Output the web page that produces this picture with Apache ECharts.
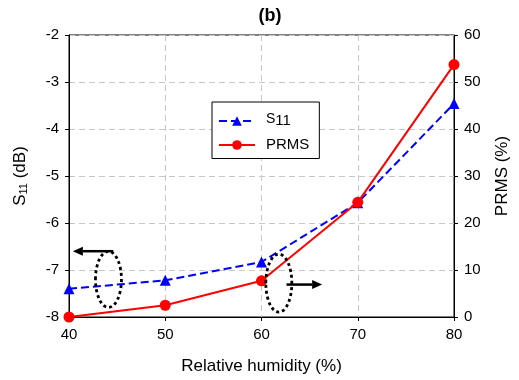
<!DOCTYPE html>
<html>
<head>
<meta charset="utf-8">
<script src="https://cdn.jsdelivr.net/npm/echarts@6/dist/echarts.min.js"></script>
<style>
  html, body { margin: 0; padding: 0; background: #fff; }
  #chart { width: 519px; height: 380px; }
</style>
</head>
<body>
<div id="chart"></div>
<script>
// 相对湿度 (x) 与两条曲线
const humidity = [40, 50, 60, 70, 80]
const s11Values = [-7.4, -7.22, -6.83, -5.57, -3.46]
const prmsValues = [0, 2.5, 7.7, 24.4, 53.7]

const FONT = 'Liberation Sans, Arial, sans-serif'

const chartDom = document.getElementById('chart')
const myChart = echarts.init(chartDom)

const option = {
  backgroundColor: '#fff',
  animation: false,
  textStyle: { fontFamily: FONT },
  title: {
    text: '(b)',
    left: 265,
    top: 2,
    textAlign: 'center',
    textStyle: { fontFamily: FONT, fontSize: 18, fontWeight: 'bold', color: '#000' }
  },
  grid: {
    left: 69,
    right: 58,
    top: 35,
    bottom: 62,
    show: true,
    borderColor: '#000',
    borderWidth: 1
  },
  legend: {
    orient: 'vertical',
    left: 212,
    top: 102,
    padding: [10, 10, 6, 6],
    itemGap: 9,
    itemWidth: 36,
    itemHeight: 12,
    borderColor: '#000',
    borderWidth: 1,
    backgroundColor: '#fff',
    textStyle: {
      fontFamily: FONT,
      fontSize: 15,
      color: '#000',
      padding: [0, 0, 0, 6],
      rich: {
        s: { fontFamily: FONT, fontSize: 14, color: '#000', padding: [0, 0, 4, 0] },
        sub: { fontFamily: FONT, fontSize: 15, color: '#000' }
      }
    },
    formatter: function (name) {
      if (name === 'S11') return '{s|S}{sub|11}'
      return name
    },
    data: ['S11', 'PRMS']
  },
  xAxis: {
    type: 'value',
    min: 40,
    max: 80,
    interval: 10,
    name: 'Relative humidity (%)',
    nameLocation: 'middle',
    nameGap: 41,
    nameTextStyle: { fontFamily: FONT, fontSize: 17, color: '#000' },
    axisLine: { lineStyle: { color: '#000', width: 1 } },
    axisTick: { show: true, length: 4, lineStyle: { color: '#000' } },
    axisLabel: { fontFamily: FONT, fontSize: 15, color: '#000', margin: 10 },
    splitLine: { show: true, lineStyle: { color: '#c8c8c8', type: [6, 4], width: 1 } }
  },
  yAxis: [
    {
      type: 'value',
      min: -8,
      max: -2,
      interval: 1,
      name: '{m|S}{sub|11}{m| (dB)}',
      nameLocation: 'middle',
      nameGap: 40,
      nameTextStyle: {
        fontFamily: FONT,
        fontSize: 17,
        color: '#000',
        rich: {
          m: { fontFamily: FONT, fontSize: 17, color: '#000' },
          sub: { fontFamily: FONT, fontSize: 11, color: '#000', padding: [6, 0, 0, 0] }
        }
      },
      axisLine: { show: true, lineStyle: { color: '#000', width: 1 } },
      axisTick: { show: true, length: 4, lineStyle: { color: '#000' } },
      axisLabel: { fontFamily: FONT, fontSize: 15, color: '#000', margin: 10 },
      splitLine: { show: true, lineStyle: { color: '#c8c8c8', type: [6, 4], width: 1 } }
    },
    {
      type: 'value',
      min: 0,
      max: 60,
      interval: 10,
      position: 'right',
      name: 'PRMS (%)',
      nameLocation: 'middle',
      nameGap: 40,
      nameRotate: 90,
      nameTextStyle: { fontFamily: FONT, fontSize: 17, color: '#000' },
      axisLine: { show: true, lineStyle: { color: '#000', width: 1 } },
      axisTick: { show: true, length: 4, lineStyle: { color: '#000' } },
      axisLabel: { fontFamily: FONT, fontSize: 15, color: '#000', margin: 10 },
      splitLine: { show: false }
    }
  ],
  series: [
    {
      name: 'S11',
      type: 'line',
      yAxisIndex: 0,
      data: humidity.map((h, i) => [h, s11Values[i]]),
      symbol: 'triangle',
      symbolSize: 11,
      itemStyle: { color: '#0000ff' },
      lineStyle: { color: '#0000ff', width: 2, type: [8, 4] },
      z: 3
    },
    {
      name: 'PRMS',
      type: 'line',
      yAxisIndex: 1,
      data: humidity.map((h, i) => [h, prmsValues[i]]),
      symbol: 'circle',
      symbolSize: 11,
      itemStyle: { color: '#ff0000' },
      lineStyle: { color: '#ff0000', width: 2 },
      z: 4
    }
  ]
}

myChart.setOption(option)

// 注释：两个虚线椭圆与指向坐标轴的箭头（用数据坐标定位）
const px = (x, y) => myChart.convertToPixel({ xAxisIndex: 0, yAxisIndex: 0 }, [x, y])
const arrow = (from, to) => {
  const dx = to[0] - from[0]
  const dir = dx > 0 ? 1 : -1
  const head = 10
  return [
    {
      type: 'line',
      shape: { x1: from[0], y1: from[1], x2: to[0] - dir * head, y2: to[1] },
      style: { stroke: '#000', lineWidth: 2.5 },
      z: 10
    },
    {
      type: 'polygon',
      shape: { points: [[to[0], to[1]], [to[0] - dir * head, to[1] - 4.5], [to[0] - dir * head, to[1] + 4.5]] },
      style: { fill: '#000' },
      z: 10
    }
  ]
}
const e1 = px(44.1, -7.2)
const e2 = px(61.8, -7.28)
const a1 = [px(44.6, -6.6), px(40.4, -6.6)]
const a2 = [px(62.6, -7.31), px(66.3, -7.31)]

myChart.setOption({
  graphic: [
    {
      type: 'ellipse',
      shape: { cx: e1[0], cy: e1[1], rx: 13, ry: 28 },
      style: { fill: 'none', stroke: '#000', lineWidth: 2.8, lineDash: [3, 3] },
      z: 10
    },
    {
      type: 'ellipse',
      shape: { cx: e2[0], cy: e2[1], rx: 13, ry: 29 },
      style: { fill: 'none', stroke: '#000', lineWidth: 2.8, lineDash: [3, 3] },
      z: 10
    },
    ...arrow(a1[0], a1[1]),
    ...arrow(a2[0], a2[1])
  ]
})
window.addEventListener('resize', myChart.resize)
</script>
</body>
</html>
